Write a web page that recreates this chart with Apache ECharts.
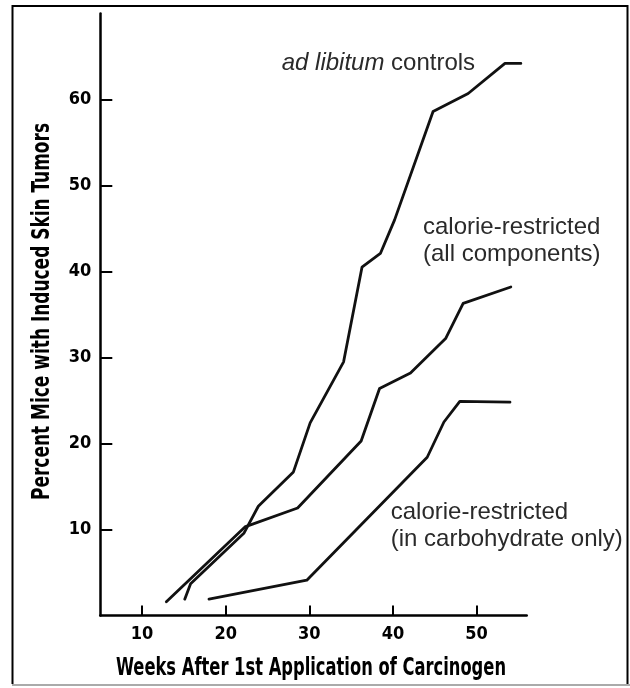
<!DOCTYPE html>
<html>
<head>
<meta charset="utf-8">
<script src="https://cdn.jsdelivr.net/npm/echarts@6/dist/echarts.min.js"></script>
<style>
html,body{margin:0;padding:0;background:#fff;}
#chart{width:630px;height:688px;}
</style>
</head>
<body>
<div id="chart"></div>
<script>
// ---- data ----
const adLibWeeks = [15.1, 15.8, 22.2, 23.9, 28.1, 30.1, 34.1, 36.3, 38.5, 40.2, 44.8, 49.0, 53.4, 55.3];
const adLibPct   = [1.9, 3.7, 9.6, 12.7, 16.7, 22.4, 29.5, 40.5, 42.1, 46.0, 58.6, 60.7, 64.2, 64.2];

const allCompWeeks = [12.9, 22.3, 28.6, 36.2, 38.4, 42.1, 46.3, 48.4, 54.1];
const allCompPct   = [1.6, 10.3, 12.5, 20.3, 26.4, 28.2, 32.2, 36.3, 38.2];

const carbWeeks = [18.0, 29.7, 44.1, 46.1, 48.0, 54.0];
const carbPct   = [1.9, 4.1, 18.4, 22.5, 24.9, 24.8];

const xTickValues = [10, 20, 30, 40, 50];
const yTickValues = [10, 20, 30, 40, 50, 60];

const xTitle = 'Weeks After 1st Application of Carcinogen';
const yTitle = 'Percent Mice with Induced Skin Tumors';

// ---- build ----
function pairs(xs, ys) { return xs.map((x, i) => [x, ys[i]]); }

const axisFont = '"DejaVu Sans Condensed", "DejaVu Sans", sans-serif';
const textFont = '"Liberation Sans", Arial, Helvetica, sans-serif';

// condensed look for the titles: measure and squeeze horizontally to the reference length
const mctx = document.createElement('canvas').getContext('2d');
const titleFont = 'bold 24px ' + axisFont;
mctx.font = titleFont;
const xTitleScale = 390 / mctx.measureText(xTitle).width;
const yTitleScale = 377 / mctx.measureText(yTitle).width;

const lineStyle = { color: '#111', width: 2.8, join: 'round', cap: 'round' };
function mkSeries(name, xs, ys) {
  return {
    name: name, type: 'line', data: pairs(xs, ys),
    showSymbol: false, symbol: 'none', smooth: false,
    lineStyle: lineStyle, silent: true, animation: false
  };
}

const chart = echarts.init(document.getElementById('chart'), null, { renderer: 'canvas' });
chart.setOption({
  animation: false,
  backgroundColor: '#fff',
  grid: { left: 100.3, right: 103.3, top: 13.5, bottom: 72.5, containLabel: false },
  xAxis: {
    type: 'value', min: 5, max: 56,
    axisLine: { show: true, onZero: false, lineStyle: { color: '#000', width: 2.5 } },
    axisTick: { show: true, inside: true, length: 10, customValues: xTickValues, lineStyle: { color: '#000', width: 2 } },
    axisLabel: { show: true, customValues: xTickValues, margin: 10, color: '#000',
      fontFamily: axisFont, fontWeight: 'bold', fontSize: 18 },
    splitLine: { show: false }
  },
  yAxis: {
    type: 'value', min: 0, max: 70,
    axisLine: { show: true, onZero: false, lineStyle: { color: '#000', width: 2.5 } },
    axisTick: { show: true, inside: true, length: 12, customValues: yTickValues, lineStyle: { color: '#000', width: 2 } },
    axisLabel: { show: true, customValues: yTickValues, margin: 9, color: '#000',
      fontFamily: axisFont, fontWeight: 'bold', fontSize: 18 },
    splitLine: { show: false }
  },
  series: [
    mkSeries('ad libitum controls', adLibWeeks, adLibPct),
    mkSeries('calorie-restricted (all components)', allCompWeeks, allCompPct),
    mkSeries('calorie-restricted (in carbohydrate only)', carbWeeks, carbPct)
  ],
  graphic: [
    { type: 'polyline', silent: true,
      shape: { points: [[12.5, 684], [12.5, 6], [627.5, 6], [627.5, 684]] },
      style: { stroke: '#000', lineWidth: 2, fill: null } },
    { type: 'line', silent: true,
      shape: { x1: 12, y1: 685, x2: 630, y2: 685 },
      style: { stroke: '#aaa', lineWidth: 2 } },
    { type: 'text', silent: true, x: 311, y: 669, scaleX: xTitleScale,
      style: { text: xTitle, font: titleFont, fill: '#000', align: 'center', verticalAlign: 'middle' } },
    { type: 'text', silent: true, x: 43, y: 311.5, rotation: Math.PI / 2, scaleX: yTitleScale,
      style: { text: yTitle, font: titleFont, fill: '#000', align: 'center', verticalAlign: 'middle' } },
    { type: 'text', silent: true, x: 281.7, y: 63.3,
      style: { text: '{i|ad libitum} controls', font: '24px ' + textFont, fill: '#2a2a2a',
        verticalAlign: 'middle', align: 'left',
        rich: { i: { fontStyle: 'italic', fontSize: 24, fontFamily: textFont, fill: '#2a2a2a' } } } },
    { type: 'text', silent: true, x: 423, y: 227.6,
      style: { text: 'calorie-restricted', font: '24px ' + textFont, fill: '#2a2a2a', verticalAlign: 'middle', align: 'left' } },
    { type: 'text', silent: true, x: 423, y: 254.8,
      style: { text: '(all components)', font: '24px ' + textFont, fill: '#2a2a2a', verticalAlign: 'middle', align: 'left' } },
    { type: 'text', silent: true, x: 390.7, y: 512,
      style: { text: 'calorie-restricted', font: '24px ' + textFont, fill: '#2a2a2a', verticalAlign: 'middle', align: 'left' } },
    { type: 'text', silent: true, x: 390.7, y: 539.3,
      style: { text: '(in carbohydrate only)', font: '24px ' + textFont, fill: '#2a2a2a', verticalAlign: 'middle', align: 'left' } }
  ]
});
</script>
</body>
</html>
